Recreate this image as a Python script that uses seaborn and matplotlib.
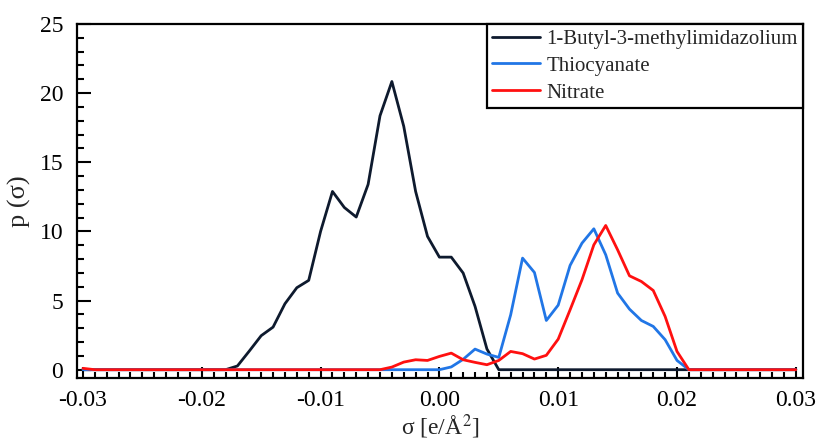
import numpy as np
import pandas as pd
import matplotlib
matplotlib.use("Agg")
import matplotlib.pyplot as plt
from matplotlib.ticker import MultipleLocator, FuncFormatter
import seaborn as sns

# sigma grid (e/Å^2)
sigma = [round(-0.030 + 0.001 * i, 3) for i in range(61)]

# p(sigma) values, listed from sigma=-0.030 to 0.030
bmim = ([0.0] * 12 +
        [0.0, 0.27, 1.35, 2.46, 3.08, 4.77, 5.93, 6.46, 10.0, 12.89,
         11.73, 11.04, 13.4, 18.36, 20.84, 17.6, 12.89, 9.64, 8.14, 8.14,
         6.99, 4.58, 1.5, 0.0] +
        [0.0] * 25)
scn = ([0.0] * 30 +
       [0.0, 0.2, 0.75, 1.49, 1.13, 0.89, 3.97, 8.07, 7.03, 3.56,
        4.67, 7.54, 9.15, 10.19, 8.31, 5.54, 4.38, 3.56, 3.13, 2.17,
        0.67, 0.0] +
       [0.0] * 9)
no3 = ([0.1] + [0.0] * 24 +
       [0.0, 0.19, 0.55, 0.72, 0.67, 0.96, 1.2, 0.72, 0.53, 0.36,
        0.67, 1.32, 1.16, 0.77, 1.04, 2.21, 4.33, 6.5, 9.03, 10.43,
        8.67, 6.79, 6.38, 5.73, 3.85, 1.32, 0.0] +
       [0.0] * 9)

names = ["1-Butyl-3-methylimidazolium", "Thiocyanate", "Nitrate"]
colors = ["#0e1a2e", "#2176e6", "#ff1010"]

df = pd.DataFrame({
    "sigma": sigma * 3,
    "p": bmim + scn + no3,
    "species": [names[0]] * 61 + [names[1]] * 61 + [names[2]] * 61,
})

sns.set_style("ticks")
plt.rcParams["font.family"] = ["Liberation Serif", "DejaVu Serif"]
plt.rcParams["mathtext.fontset"] = "stix"

fig = plt.figure(figsize=(8.16, 4.42), dpi=100)
ax = fig.add_axes([0.0944, 0.1448, 0.8896, 0.8009])

sns.lineplot(data=df, x="sigma", y="p", hue="species", hue_order=names,
             palette=colors, linewidth=2.0, ax=ax, estimator=None, sort=False)

ax.set_xlim(-0.0305, 0.0306)
ax.set_ylim(-0.6, 25)
ax.xaxis.set_major_locator(MultipleLocator(0.01))
ax.xaxis.set_minor_locator(MultipleLocator(0.001))
ax.yaxis.set_major_locator(MultipleLocator(5))
ax.yaxis.set_minor_locator(MultipleLocator(1))
ax.xaxis.set_major_formatter(FuncFormatter(lambda v, p: ("%.2f" % v).replace("-0.00", "0.00")))
ax.yaxis.set_major_formatter(FuncFormatter(lambda v, p: "%d" % round(v)))

ax.tick_params(axis="both", which="both", direction="in", top=False, right=False,
               labelsize=17, width=1.5, color="black", labelcolor="black")
ax.tick_params(axis="x", which="major", length=8, pad=9)
ax.tick_params(axis="x", which="minor", length=4.5)
ax.tick_params(axis="y", which="major", length=10, pad=10)
ax.tick_params(axis="y", which="minor", length=5)

for s in ax.spines.values():
    s.set_visible(True)
    s.set_linewidth(1.6)
    s.set_color("black")

ax.set_xlabel("σ [e/Å$^{2}$]", fontsize=17, labelpad=1)
ax.set_ylabel("p (σ)", fontsize=19, labelpad=6)

leg = ax.legend(loc="upper right", fontsize=15, frameon=True, fancybox=False,
                edgecolor="black", borderaxespad=0, handlelength=2.3,
                handletextpad=0.3, labelspacing=0.35, borderpad=0.25, title=None)
leg.get_frame().set_linewidth(1.6)
leg.get_frame().set_alpha(1)

fig.savefig("out.png", dpi=100)
